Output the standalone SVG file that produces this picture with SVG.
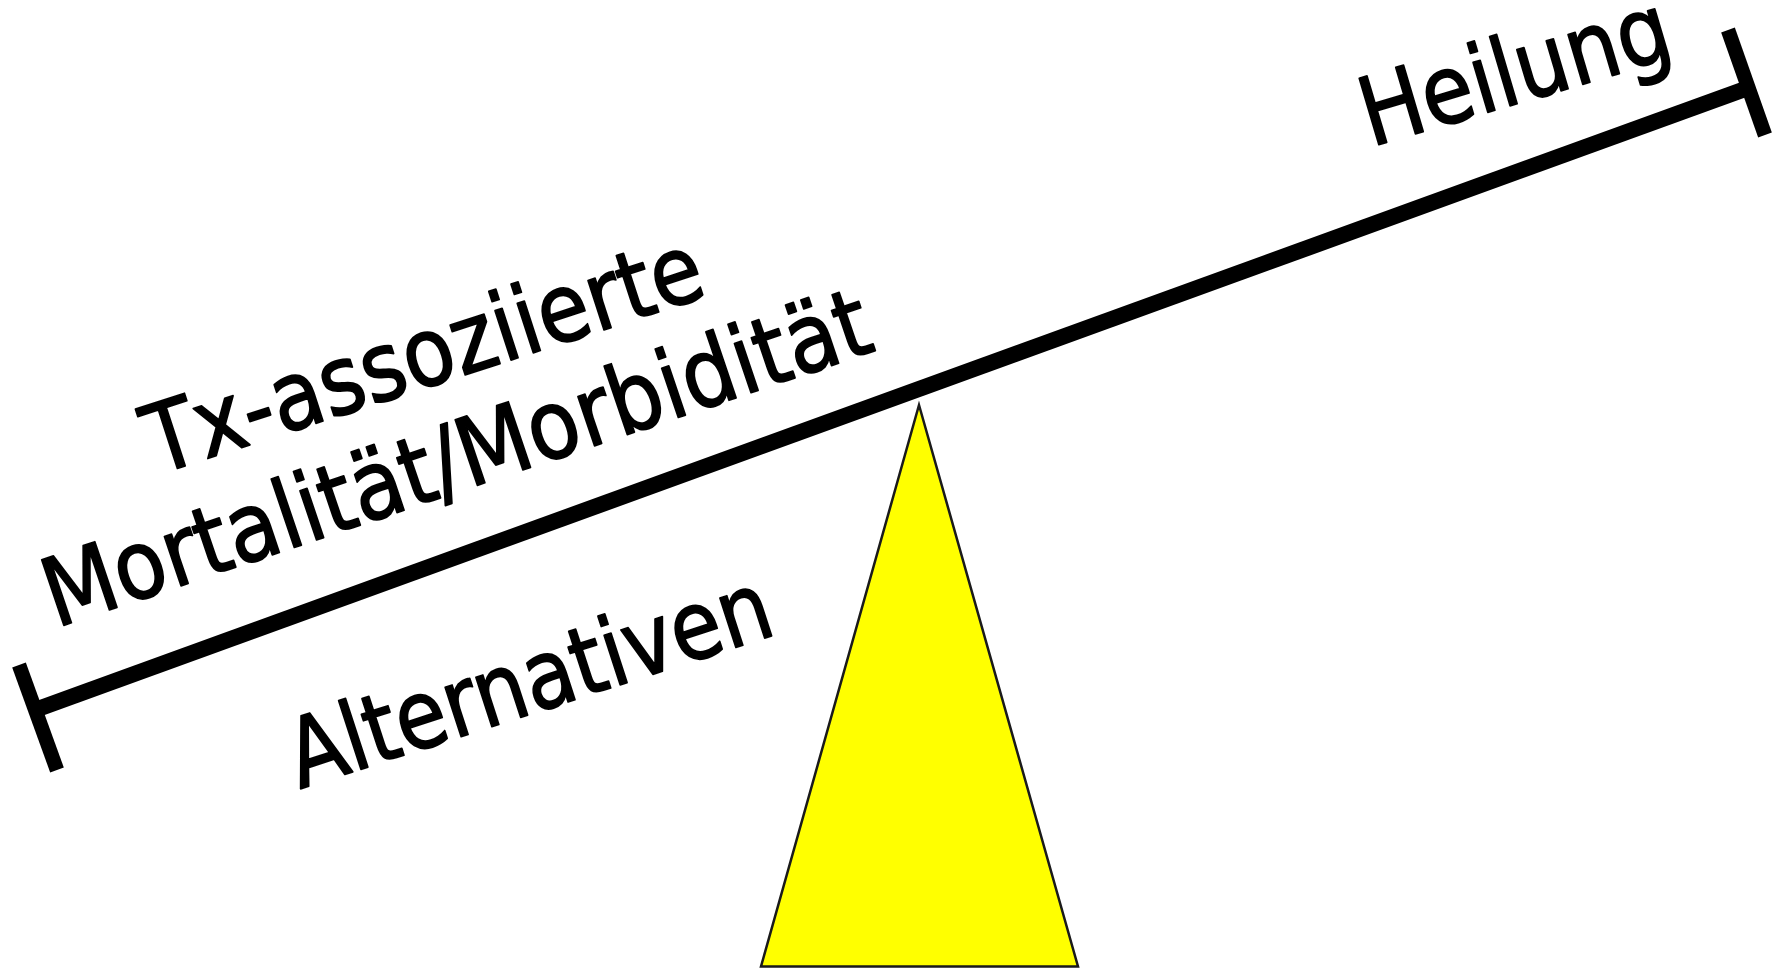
<svg xmlns="http://www.w3.org/2000/svg" width="1785" height="969" viewBox="0 0 1785 969">
<style>
.lbl{font-family:"DejaVu Sans","Liberation Sans",sans-serif;font-size:95px;fill:#000;stroke:#000;stroke-width:1.8;stroke-linejoin:round}
.bar{stroke:#000;stroke-width:14.5;stroke-linecap:butt;fill:none}
</style>
<rect width="1785" height="969" fill="#fff"/>
<g id="fulcrum">
<polygon points="919,405 761,966.5 1078,966.5" fill="#ffff00" stroke="#1a1a1a" stroke-width="2.5" stroke-linejoin="miter"/>
</g>
<g id="connectors">
<line class="bar" x1="35" y1="710" x2="1748" y2="88" style="stroke-width:16"/>
<line class="bar" x1="19" y1="665" x2="57" y2="770"/>
<line class="bar" x1="1728" y1="30" x2="1765" y2="135"/>
</g>
<g id="heilung"><text class="lbl" x="1371" y="147" transform="rotate(-16.5 1371 147)" textLength="319" lengthAdjust="spacingAndGlyphs">Heilung</text></g>
<g id="tx"><text class="lbl" x="157" y="475" transform="rotate(-18 157 475)" textLength="581" lengthAdjust="spacingAndGlyphs">Tx-assoziierte</text></g>
<g id="mortalitaet"><text class="lbl" x="56" y="628" transform="rotate(-18.7 56 628)" textLength="867" lengthAdjust="spacingAndGlyphs">Mortalität/Morbidität</text></g>
<g id="alternativen"><text class="lbl" x="300" y="789" transform="rotate(-18 300 789)" textLength="503" lengthAdjust="spacingAndGlyphs">Alternativen</text></g>
</svg>
